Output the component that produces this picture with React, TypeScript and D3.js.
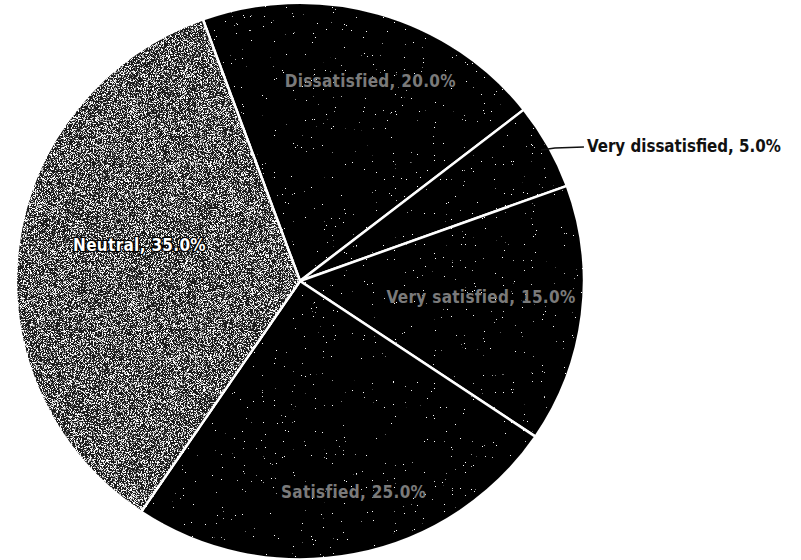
import React from "react";
import * as d3 from "d3";

const categories = ["Dissatisfied", "Very dissatisfied", "Very satisfied", "Satisfied", "Neutral"];
const values = [20, 5, 15, 25, 35];
const percentLabels = ["20.0%", "5.0%", "15.0%", "25.0%", "35.0%"];

// layout (not data)
const W = 801;
const H = 560;
const CX = 300;
const CY = 281;
const R = 284;
const YSCALE = 0.98;
const START_DEG = -20;
const labelRadiusFrac = [0.76, 0, 0.64, 0.78, 0.58];
const labelAngleShift = [3, 0, -2, -3, 6];

export default function App() {
  const pie = d3
    .pie<number>()
    .sort(null)
    .value((d) => d)
    .startAngle((START_DEG * Math.PI) / 180)
    .endAngle(((START_DEG + 360) * Math.PI) / 180);
  const arcs = pie(values);
  const arcGen = d3.arc<d3.PieArcDatum<number>>().innerRadius(0).outerRadius(R);

  const fills = ["#060606", "#060606", "#060606", "#060606", "#1e1e1e"];
  const filters = ["url(#sparse)", "url(#sparse)", "url(#sparse)", "url(#sparse)", "url(#dense)"];

  const labelPos = arcs.map((a, i) => {
    const mid = (a.startAngle + a.endAngle) / 2 + (labelAngleShift[i] * Math.PI) / 180;
    const r = R * labelRadiusFrac[i];
    return [Math.sin(mid) * r, -Math.cos(mid) * r];
  });

  // outside label for very dissatisfied slice
  const vd = arcs[1];
  const vdMid = (vd.startAngle + vd.endAngle) / 2;
  const p0: [number, number] = [Math.sin(vdMid) * R * 0.97, -Math.cos(vdMid) * R * 0.97];
  const py = p0[1] * YSCALE;

  return (
    <svg
      width={W}
      height={H}
      style={{ position: "fixed", left: 0, top: 0, background: "#fff" }}
    >
      <defs>
        <filter id="dense" x="-5%" y="-5%" width="110%" height="110%">
          <feTurbulence type="fractalNoise" baseFrequency="1.3" numOctaves={2} seed={4} result="noise" />
          <feColorMatrix
            in="noise"
            type="matrix"
            values="0 0 0 0 1  0 0 0 0 1  0 0 0 0 1  9 0 0 0 -4.6"
            result="dots"
          />
          <feComposite in="dots" in2="SourceGraphic" operator="in" result="clipped" />
          <feMerge>
            <feMergeNode in="SourceGraphic" />
            <feMergeNode in="clipped" />
          </feMerge>
        </filter>
        <filter id="sparse" x="-5%" y="-5%" width="110%" height="110%">
          <feTurbulence type="fractalNoise" baseFrequency="1.1" numOctaves={2} seed={9} result="noise" />
          <feColorMatrix
            in="noise"
            type="matrix"
            values="0 0 0 0 1  0 0 0 0 1  0 0 0 0 1  40 0 0 0 -31"
            result="dots"
          />
          <feComposite in="dots" in2="SourceGraphic" operator="in" result="clipped" />
          <feMerge>
            <feMergeNode in="SourceGraphic" />
            <feMergeNode in="clipped" />
          </feMerge>
        </filter>
      </defs>
      <g transform={`translate(${CX},${CY}) scale(1,${YSCALE})`}>
        {arcs.map((a, i) => (
          <path
            key={categories[i]}
            d={arcGen(a) ?? ""}
            fill={fills[i]}
            filter={filters[i]}
            stroke="#ffffff"
            strokeWidth={2.5}
            strokeLinejoin="round"
          />
        ))}
      </g>
      <g transform={`translate(${CX},${CY})`}>
        {arcs.map((a, i) => {
          if (i === 1) return null;
          const [x, y] = labelPos[i];
          const isNeutral = i === 4;
          return (
            <text
              key={"l" + i}
              x={x}
              y={y * YSCALE}
              textAnchor="middle"
              dominantBaseline="central"
              fontFamily="'DejaVu Sans Condensed', 'Liberation Sans Narrow', sans-serif"
              fontWeight="bold"
              fontSize={17}
              letterSpacing={0.3}
              fill={isNeutral ? "#ffffff" : "#7a7a7a"}
              stroke={isNeutral ? "#000" : "none"}
              strokeWidth={isNeutral ? 2.5 : 0}
              paintOrder="stroke"
            >
              {`${categories[i]}, ${percentLabels[i]}`}
            </text>
          );
        })}
        <polyline
          points={`${p0[0]},${py} ${p0[0] + 14},${py - 2} ${p0[0] + 43},${py - 3}`}
          fill="none"
          stroke="#111"
          strokeWidth={1.5}
        />
        <text
          x={p0[0] + 46}
          y={py + 2}
          fontFamily="'DejaVu Sans Condensed', 'Liberation Sans Narrow', sans-serif"
          fontWeight="bold"
          fontSize={18}
          fill="#111"
          textLength={194}
          lengthAdjust="spacingAndGlyphs"
        >
          {`${categories[1]}, ${percentLabels[1]}`}
        </text>
      </g>
    </svg>
  );
}
